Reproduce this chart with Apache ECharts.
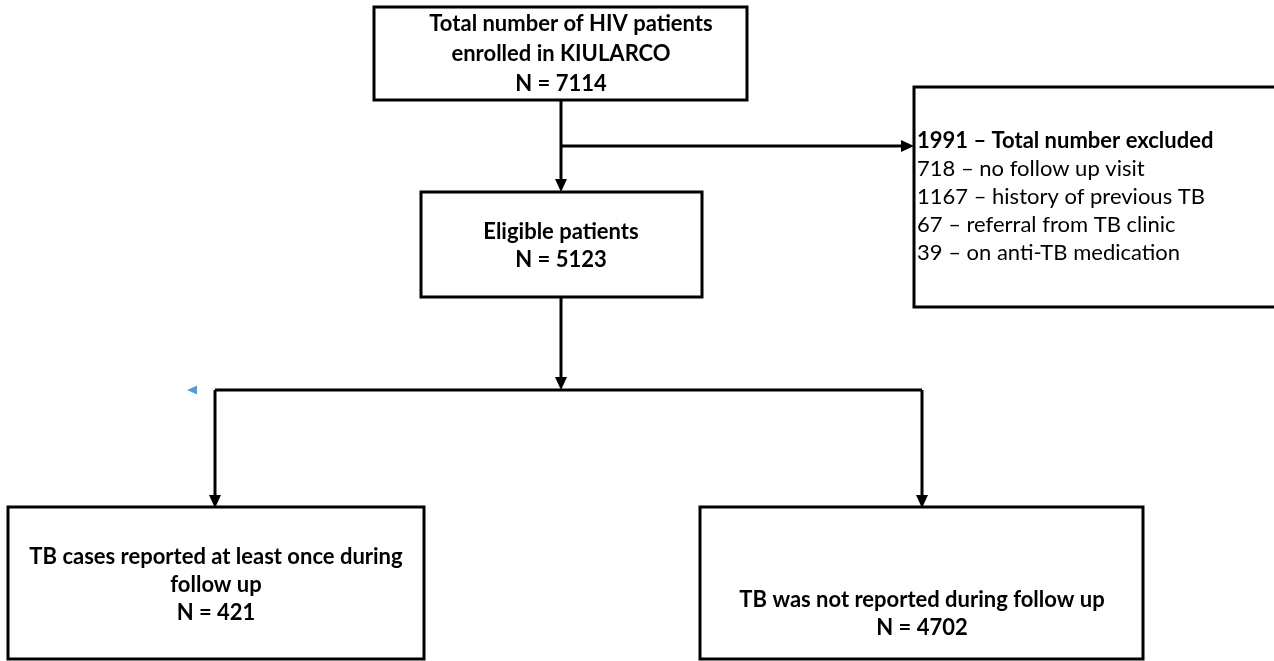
<!DOCTYPE html>
<html><head><meta charset="utf-8">
<script src="https://cdn.jsdelivr.net/npm/echarts@6/dist/echarts.min.js"></script>
<style>html,body{margin:0;padding:0;background:#fff}#c{width:1274px;height:661px}</style>
</head><body><div id="c"></div>
<script>
// ---- content ----
const boxTitles = [
  'Total number of HIV patients\nenrolled in KIULARCO',
  'Eligible patients',
  'TB cases reported at least once during\nfollow up',
  'TB was not reported during follow up'
];
const boxCounts = [7114, 5123, 421, 4702];
const excludedTotal = 1991;
const excludedTitle = 'Total number excluded';
const exclusionCounts = [718, 1167, 67, 39];
const exclusionReasons = ['no follow up visit', 'history of previous TB', 'referral from TB clinic', 'on anti-TB medication'];

// ---- layout (diagram coordinate space) ----
const boxRects = [[374,7,747,100],[421,192,702,297],[8,507,424,659],[700,507,1143,659]];
const boxTextCenter = [[561,54],[561,246],[216,585],[922,614]];
const boxLineHeight = [30,28,28,28];
const firstLineShift = [10,0,0,0];
const exclRect = [914,87,1300,307];
const exclTextStart = [917,141];
const connectors = [
  {pts:[[561,100],[561,192]], arrow:true},
  {pts:[[561,146],[914,146]], arrow:true},
  {pts:[[561,297],[561,390]], arrow:true},
  {pts:[[215,390],[922,390]], arrow:false},
  {pts:[[215,390],[215,508]], arrow:true},
  {pts:[[922,390],[922,508]], arrow:true}
];
const marker = [187,390];

const FONT_FAMILY = 'Lato, "Open Sans", sans-serif';
const FS_BOLD = 22;
const FS_REG = 22;

const chart = echarts.init(document.getElementById('c'), null, {renderer:'canvas'});

function boxItem(params, api) {
  const i = params.dataIndex;
  const r = boxRects[i];
  const p0 = api.coord([r[0], r[1]]);
  const p1 = api.coord([r[2], r[3]]);
  const lines = (boxTitles[i] + '\nN = ' + boxCounts[i]).split('\n');
  const LH = boxLineHeight[i];
  const children = [
    {type:'rect', shape:{x:p0[0], y:p0[1], width:p1[0]-p0[0], height:p1[1]-p0[1]},
     style:{fill:'#fff', stroke:'#000', lineWidth:3}}
  ];
  const cy0 = boxTextCenter[i][1] - (lines.length - 1) * LH / 2;
  lines.forEach((t, k) => {
    const p = api.coord([boxTextCenter[i][0] + (k === 0 ? firstLineShift[i] : 0), cy0 + k * LH]);
    children.push({type:'text', style:{text:t, x:p[0], y:p[1], align:'center', verticalAlign:'middle',
      fontFamily:FONT_FAMILY, fontSize:FS_BOLD, fontWeight:'bold', fill:'#000'}});
  });
  return {type:'group', children};
}

function exclItem(params, api) {
  const p0 = api.coord([exclRect[0], exclRect[1]]);
  const p1 = api.coord([exclRect[2], exclRect[3]]);
  const children = [
    {type:'rect', shape:{x:p0[0], y:p0[1], width:p1[0]-p0[0], height:p1[1]-p0[1]},
     style:{fill:'#fff', stroke:'#000', lineWidth:3}}
  ];
  const lines = [excludedTotal + ' \u2013 ' + excludedTitle].concat(
    exclusionCounts.map((n, k) => n + ' \u2013 ' + exclusionReasons[k]));
  lines.forEach((t, k) => {
    const p = api.coord([exclTextStart[0], exclTextStart[1] + k * 28]);
    children.push({type:'text', style:{text:t, x:p[0], y:p[1], align:'left', verticalAlign:'middle',
      fontFamily:FONT_FAMILY, fontSize: k === 0 ? FS_BOLD : FS_REG, fontWeight: k === 0 ? 'bold' : 'normal', fill:'#000'}});
  });
  return {type:'group', children};
}

function connItem(params, api) {
  const c = connectors[params.dataIndex];
  const pts = c.pts.map(p => api.coord(p));
  const children = [];
  const n = pts.length;
  let linePts = pts.slice();
  if (c.arrow) {
    const a = pts[n-2], b = pts[n-1];
    const dx = b[0]-a[0], dy = b[1]-a[1];
    const len = Math.hypot(dx, dy);
    const ux = dx/len, uy = dy/len;
    const L = 13, W = 6;
    const base = [b[0]-ux*L, b[1]-uy*L];
    linePts[n-1] = [b[0]-ux*(L-2), b[1]-uy*(L-2)];
    children.push({type:'polygon', shape:{points:[b,[base[0]-uy*W, base[1]+ux*W],[base[0]+uy*W, base[1]-ux*W]]},
      style:{fill:'#000'}});
  }
  children.unshift({type:'polyline', shape:{points:linePts}, style:{stroke:'#000', lineWidth:3, fill:null, lineJoin:'miter'}});
  return {type:'group', children};
}

function markerItem(params, api) {
  const p = api.coord(marker);
  return {type:'polygon', shape:{points:[[p[0],p[1]],[p[0]+10,p[1]-4.5],[p[0]+10,p[1]+4.5]]}, style:{fill:'#5b9bd5'}};
}

chart.setOption({
  animation:false,
  grid:{left:0, right:0, top:0, bottom:0},
  xAxis:{type:'value', min:0, max:1274, show:false},
  yAxis:{type:'value', min:0, max:661, inverse:true, show:false},
  series:[
    {type:'custom', renderItem:connItem, data:connectors.map((c,i)=>i), clip:false, z:1},
    {type:'custom', renderItem:boxItem, data:boxTitles.map((t,i)=>i), clip:false, z:2},
    {type:'custom', renderItem:exclItem, data:[0], clip:false, z:2},
    {type:'custom', renderItem:markerItem, data:[0], clip:false, z:2}
  ]
});
</script></body></html>
